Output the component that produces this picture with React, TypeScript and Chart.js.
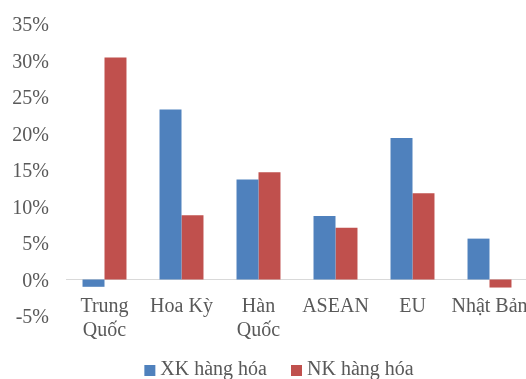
import { useEffect, useRef } from "react";
import { Chart, registerables } from "chart.js";

Chart.register(...registerables);

// Growth of goods trade by partner, percent
const categories: (string | string[])[] = [["Trung", "Quốc"], "Hoa Kỳ", ["Hàn", "Quốc"], "ASEAN", "EU", "Nhật Bản"];
const exportGrowth = [-1.0, 23.3, 13.7, 8.7, 19.4, 5.6];
const importGrowth = [30.4, 8.8, 14.7, 7.1, 11.8, -1.1];
const seriesNames = ["XK hàng hóa", "NK hàng hóa"];
const seriesColors = ["#4F81BD", "#C0504D"];
const yMin = -5;
const yMax = 35;
const yStep = 5;

const FONT = '"Liberation Serif", "Times New Roman", serif';
const TEXT = "#595959";

// Legend drawn under the plot: small squares followed by the series name
const bottomLegend = {
  id: "bottomLegend",
  afterDraw(chart: any, _args: any, opts: any) {
    const ctx = chart.ctx as CanvasRenderingContext2D;
    ctx.save();
    ctx.font = `20px ${FONT}`;
    const box = 11;
    const gapText = 5;
    const gapItem = 24;
    const items = chart.data.datasets.map((ds: any) => ({
      label: ds.label as string,
      color: ds.backgroundColor as string,
      w: ctx.measureText(ds.label).width,
    }));
    const total =
      items.reduce((s: number, it: any) => s + box + gapText + it.w, 0) + gapItem * (items.length - 1);
    let x = opts.centerX - total / 2;
    const baseline = opts.baseline;
    ctx.textBaseline = "alphabetic";
    ctx.textAlign = "left";
    for (const it of items) {
      ctx.fillStyle = it.color;
      ctx.fillRect(x, baseline - 10, box, box);
      x += box + gapText;
      ctx.fillStyle = TEXT;
      ctx.fillText(it.label, x, baseline);
      x += it.w + gapItem;
    }
    ctx.restore();
  },
};

export default function App() {
  const canvasRef = useRef<HTMLCanvasElement | null>(null);

  useEffect(() => {
    if (!canvasRef.current) return;
    const chart = new Chart(canvasRef.current, {
      type: "bar",
      data: {
        labels: categories,
        datasets: [
          {
            label: seriesNames[0],
            data: exportGrowth,
            backgroundColor: seriesColors[0],
            categoryPercentage: 0.571,
            barPercentage: 1.0,
          },
          {
            label: seriesNames[1],
            data: importGrowth,
            backgroundColor: seriesColors[1],
            categoryPercentage: 0.571,
            barPercentage: 1.0,
          },
        ],
      },
      options: {
        responsive: false,
        animation: false,
        layout: { padding: { top: 24, right: 12, bottom: 74, left: 0 } },
        plugins: {
          legend: { display: false },
          tooltip: { enabled: false },
          bottomLegend: { centerX: 279, baseline: 375 },
        } as any,
        scales: {
          x: {
            position: { y: 0 } as any,
            grid: { display: false, drawTicks: false },
            border: { display: true, color: "#D9D9D9", width: 1 },
            ticks: {
              color: TEXT,
              font: { family: FONT, size: 20 },
              padding: 15,
              maxRotation: 0,
              autoSkip: false,
            },
            afterFit(scale: any) {
              // category labels sit under the zero line and must not shrink the plot
              scale.paddingLeft = 0;
              scale.paddingRight = 0;
              scale.paddingTop = 0;
              scale.paddingBottom = 0;
            },
          },
          y: {
            min: yMin,
            max: yMax,
            grid: { display: false, drawTicks: false },
            border: { display: false },
            ticks: {
              stepSize: yStep,
              color: TEXT,
              font: { family: FONT, size: 20 },
              padding: 17,
              labelOffset: 2,
              callback: (v: any) => `${v}%`,
            },
            afterFit(scale: any) {
              scale.width = 66;
              scale.paddingTop = 0;
              scale.paddingBottom = 0;
            },
          },
        },
      },
      plugins: [bottomLegend],
    });
    return () => chart.destroy();
  }, []);

  return (
    <div
      style={{
        position: "fixed",
        top: 0,
        left: 0,
        width: 526,
        height: 379,
        overflow: "hidden",
        background: "#ffffff",
      }}
    >
      <canvas ref={canvasRef} width={540} height={390} style={{ display: "block", width: 540, height: 390 }} />
    </div>
  );
}
